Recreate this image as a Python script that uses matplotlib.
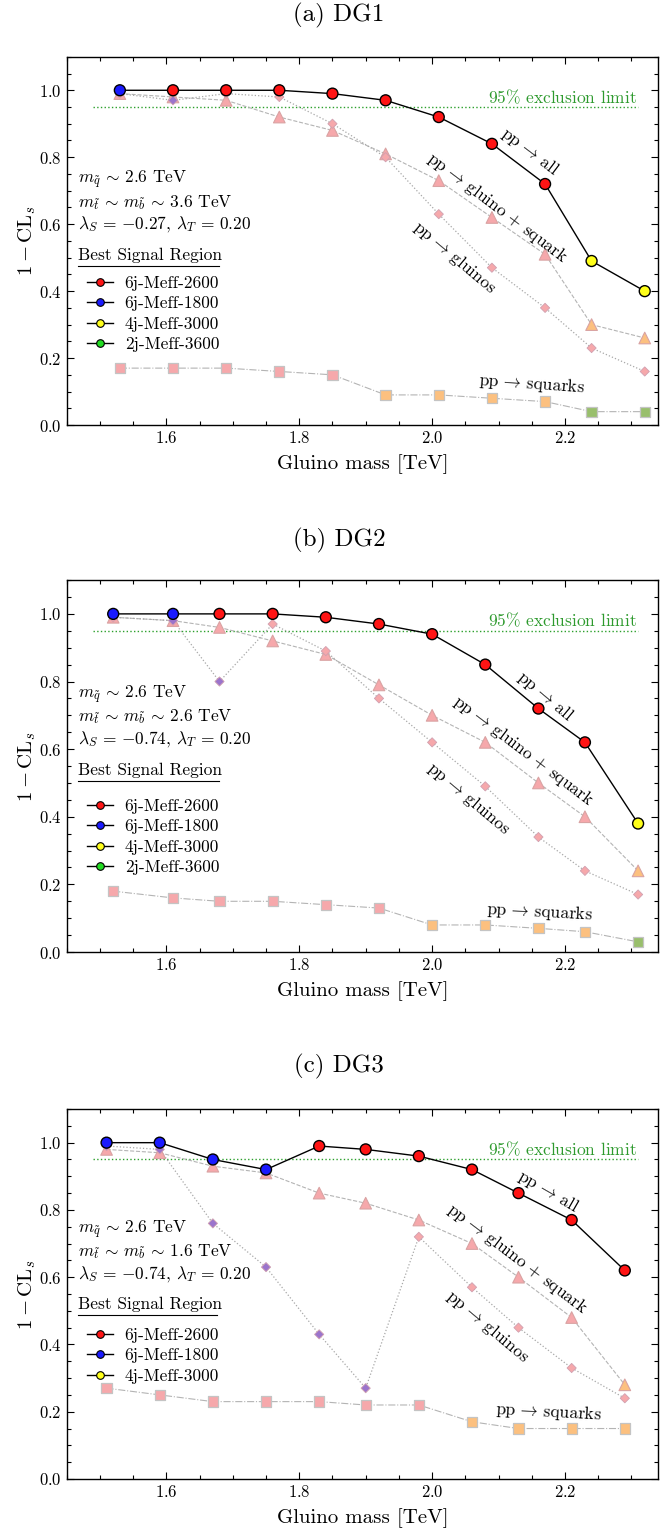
import matplotlib
matplotlib.use('Agg')
import matplotlib.pyplot as plt
from matplotlib.lines import Line2D
from matplotlib.ticker import MultipleLocator

plt.rcParams['font.family'] = 'serif'
plt.rcParams['font.serif'] = ['cmr10']
plt.rcParams['mathtext.fontset'] = 'cm'
plt.rcParams['axes.formatter.use_mathtext'] = True

# ---- data ----
# signal-region codes: R=6j-Meff-2600, B=6j-Meff-1800, Y=4j-Meff-3000, G=2j-Meff-3600
mass_dg1 = [1.53, 1.61, 1.69, 1.77, 1.85, 1.93, 2.01, 2.09, 2.17, 2.24, 2.32]
all_dg1 = [1.00, 1.00, 1.00, 1.00, 0.99, 0.97, 0.92, 0.84, 0.72, 0.49, 0.40]
all_sr_dg1 = ['B', 'R', 'R', 'R', 'R', 'R', 'R', 'R', 'R', 'Y', 'Y']
gsq_dg1 = [0.99, 0.98, 0.97, 0.92, 0.88, 0.81, 0.73, 0.62, 0.51, 0.30, 0.26]
gsq_sr_dg1 = ['R', 'R', 'R', 'R', 'R', 'R', 'R', 'R', 'R', 'Y', 'Y']
gl_dg1 = [0.99, 0.97, 0.99, 0.98, 0.90, 0.80, 0.63, 0.47, 0.35, 0.23, 0.16]
gl_sr_dg1 = ['R', 'B', 'R', 'R', 'R', 'R', 'R', 'R', 'R', 'R', 'R']
sq_dg1 = [0.17, 0.17, 0.17, 0.16, 0.15, 0.09, 0.09, 0.08, 0.07, 0.04, 0.04]
sq_sr_dg1 = ['R', 'R', 'R', 'R', 'R', 'Y', 'Y', 'Y', 'Y', 'G', 'G']

mass_dg2 = [1.52, 1.61, 1.68, 1.76, 1.84, 1.92, 2.00, 2.08, 2.16, 2.23, 2.31]
all_dg2 = [1.00, 1.00, 1.00, 1.00, 0.99, 0.97, 0.94, 0.85, 0.72, 0.62, 0.38]
all_sr_dg2 = ['B', 'B', 'R', 'R', 'R', 'R', 'R', 'R', 'R', 'R', 'Y']
gsq_dg2 = [0.99, 0.98, 0.96, 0.92, 0.88, 0.79, 0.70, 0.62, 0.50, 0.40, 0.24]
gsq_sr_dg2 = ['R', 'R', 'R', 'R', 'R', 'R', 'R', 'R', 'R', 'R', 'Y']
gl_dg2 = [0.99, 0.98, 0.80, 0.97, 0.89, 0.75, 0.62, 0.49, 0.34, 0.24, 0.17]
gl_sr_dg2 = ['R', 'B', 'B', 'R', 'R', 'R', 'R', 'R', 'R', 'R', 'R']
sq_dg2 = [0.18, 0.16, 0.15, 0.15, 0.14, 0.13, 0.08, 0.08, 0.07, 0.06, 0.03]
sq_sr_dg2 = ['R', 'R', 'R', 'R', 'R', 'R', 'Y', 'Y', 'Y', 'Y', 'G']

mass_dg3 = [1.51, 1.59, 1.67, 1.75, 1.83, 1.90, 1.98, 2.06, 2.13, 2.21, 2.29]
all_dg3 = [1.00, 1.00, 0.95, 0.92, 0.99, 0.98, 0.96, 0.92, 0.85, 0.77, 0.62]
all_sr_dg3 = ['B', 'B', 'B', 'B', 'R', 'R', 'R', 'R', 'R', 'R', 'R']
gsq_dg3 = [0.98, 0.97, 0.93, 0.91, 0.85, 0.82, 0.77, 0.70, 0.60, 0.48, 0.28]
gsq_sr_dg3 = ['R', 'R', 'R', 'R', 'R', 'R', 'R', 'R', 'R', 'R', 'Y']
gl_dg3 = [0.99, 0.98, 0.76, 0.63, 0.43, 0.27, 0.72, 0.57, 0.45, 0.33, 0.24]
gl_sr_dg3 = ['B', 'B', 'B', 'B', 'B', 'B', 'R', 'R', 'R', 'R', 'R']
sq_dg3 = [0.27, 0.25, 0.23, 0.23, 0.23, 0.22, 0.22, 0.17, 0.15, 0.15, 0.15]
sq_sr_dg3 = ['R', 'R', 'R', 'R', 'R', 'R', 'R', 'Y', 'Y', 'Y', 'Y']

titles = ['(a) DG1', '(b) DG2', '(c) DG3']
stop_mass = ['3.6', '2.6', '1.6']
lambda_s = ['-0.27', '-0.74', '-0.74']
legend_codes = [['R', 'B', 'Y', 'G'], ['R', 'B', 'Y', 'G'], ['R', 'B', 'Y']]

sr_names = {'R': '6j-Meff-2600', 'B': '6j-Meff-1800', 'Y': '4j-Meff-3000', 'G': '2j-Meff-3600'}
main_col = {'R': '#ff1414', 'B': '#1a1aff', 'Y': '#ffff1a', 'G': '#22dd22'}
faded_col = {'R': '#f6a8ab', 'B': '#9b74cc', 'Y': '#fcc07f', 'G': '#99bf6c'}

# label positions (x, y, rotation) for all / gluino+squark / gluinos / squarks
labels_pos = [
    [(2.147, 0.816, -37), (2.098, 0.650, -37), (2.034, 0.502, -40), (2.150, 0.124, -4)],
    [(2.170, 0.756, -40), (2.138, 0.597, -37), (2.055, 0.454, -40), (2.162, 0.120, -3)],
    [(2.175, 0.856, -30), (2.128, 0.655, -37), (2.083, 0.454, -40), (2.175, 0.200, -3)],
]
label_txt = [r'pp$\,\rightarrow\,$all', r'pp$\,\rightarrow\,$gluino + squark',
             r'pp$\,\rightarrow\,$gluinos', r'pp$\,\rightarrow\,$squarks']

panels = [
    (mass_dg1, all_dg1, all_sr_dg1, gsq_dg1, gsq_sr_dg1, gl_dg1, gl_sr_dg1, sq_dg1, sq_sr_dg1),
    (mass_dg2, all_dg2, all_sr_dg2, gsq_dg2, gsq_sr_dg2, gl_dg2, gl_sr_dg2, sq_dg2, sq_sr_dg2),
    (mass_dg3, all_dg3, all_sr_dg3, gsq_dg3, gsq_sr_dg3, gl_dg3, gl_sr_dg3, sq_dg3, sq_sr_dg3),
]

# axes rectangles in figure fractions (from pixel layout of the reference)
rects = [[0.1009, 0.7231, 0.8946, 0.2399],
         [0.1009, 0.3798, 0.8946, 0.2423],
         [0.1009, 0.0365, 0.8946, 0.2410]]
title_y = [0.990, 0.648, 0.305]
text_y0 = [0.731, 0.761, 0.742]   # first line of the parameter block
leg_top = [0.406, 0.413, 0.410]   # axes fraction

fig = plt.figure(figsize=(6.61, 15.35), dpi=100)
renderer = fig.canvas.get_renderer()

for i, (m, a, a_sr, gs, gs_sr, gl, gl_sr, sq, sq_sr) in enumerate(panels):
    ax = fig.add_axes(rects[i])
    fig.text(0.513, title_y[i], titles[i], ha='center', va='center', fontsize=18)

    # subprocess curves
    ax.plot(m, sq, '-.', color='#b4b4b4', lw=0.8, zorder=1)
    ax.plot(m, gs, '--', color='#b4b4b4', lw=0.8, zorder=1)
    ax.plot(m, gl, ':', color='#a8a8a8', lw=0.9, zorder=1)
    ax.scatter(m, sq, marker='s', s=55, c=[faded_col[c] for c in sq_sr],
               edgecolors='#c4c4c4', linewidths=0.9, zorder=2)
    ax.scatter(m, gs, marker='^', s=70, c=[faded_col[c] for c in gs_sr],
               edgecolors='#d9a3a3', linewidths=0.8, zorder=2)
    ax.scatter(m, gl, marker='D', s=22, c=[faded_col[c] for c in gl_sr],
               edgecolors='#d0a0b0', linewidths=0.6, zorder=3)
    # total
    ax.plot(m, a, '-', color='k', lw=1.0, zorder=4)
    ax.scatter(m, a, marker='o', s=62, c=[main_col[c] for c in a_sr],
               edgecolors='k', linewidths=1.0, zorder=5)

    # 95% line
    ax.hlines(0.95, 1.49, 2.31, colors='#2ca02c', linestyles=':', lw=1.0, zorder=0)
    ax.text(2.308, 0.981, r'95$\%$ exclusion limit', color='#2e9a2e', fontsize=12.5,
            ha='right', va='center')

    for (tx, ty, rot), s in zip(labels_pos[i], label_txt):
        ax.text(tx, ty, s, fontsize=12.5, rotation=rot, rotation_mode='anchor',
                ha='center', va='center')

    # parameter block
    block = [r'$m_{\tilde{q}} \,\sim\, 2.6$ TeV',
             r'$m_{\tilde{t}} \,\sim\, m_{\tilde{b}} \,\sim\, %s$ TeV' % stop_mass[i],
             r'$\lambda_S \,=\, {%s}$, $\lambda_T \,=\, 0.20$' % lambda_s[i]]
    for k, s in enumerate(block):
        ax.text(1.467, text_y0[i] - 0.066 * k, s, fontsize=12.5, ha='left', va='center')
    bsr_y = text_y0[i] - 0.224
    t = ax.text(1.467, bsr_y, 'Best Signal Region', fontsize=12.5, ha='left', va='center')
    bb = t.get_window_extent(renderer).transformed(ax.transData.inverted())
    ax.plot([bb.x0, bb.x1], [bsr_y - 0.031] * 2, color='k', lw=0.8)

    handles = [Line2D([], [], color='k', lw=1.0, marker='o', ms=5.5,
                      markerfacecolor=main_col[c], markeredgecolor='k', mew=0.8,
                      label=sr_names[c]) for c in legend_codes[i]]
    ax.legend(handles=handles, loc='upper left', bbox_to_anchor=(0.0335, leg_top[i]),
              frameon=False, fontsize=12.5, handlelength=1.5, handletextpad=0.7,
              labelspacing=0.3, borderpad=0, borderaxespad=0)

    ax.set_xlim(1.45, 2.34)
    ax.set_ylim(0.0, 1.1)
    ax.xaxis.set_major_locator(MultipleLocator(0.2))
    ax.xaxis.set_minor_locator(MultipleLocator(0.05))
    ax.yaxis.set_major_locator(MultipleLocator(0.2))
    ax.yaxis.set_minor_locator(MultipleLocator(0.05))
    ax.tick_params(which='both', direction='in', top=True, right=True, labelsize=12)
    ax.tick_params(which='major', length=5, width=0.8)
    ax.tick_params(which='minor', length=3, width=0.8)
    for sp in ax.spines.values():
        sp.set_linewidth(1.0)
    ax.set_xlabel('Gluino mass [TeV]', fontsize=15, labelpad=6)
    ax.set_ylabel(r'$1 - \mathrm{CL}_s$', fontsize=15, labelpad=1)

fig.savefig('out.png', dpi=100)
